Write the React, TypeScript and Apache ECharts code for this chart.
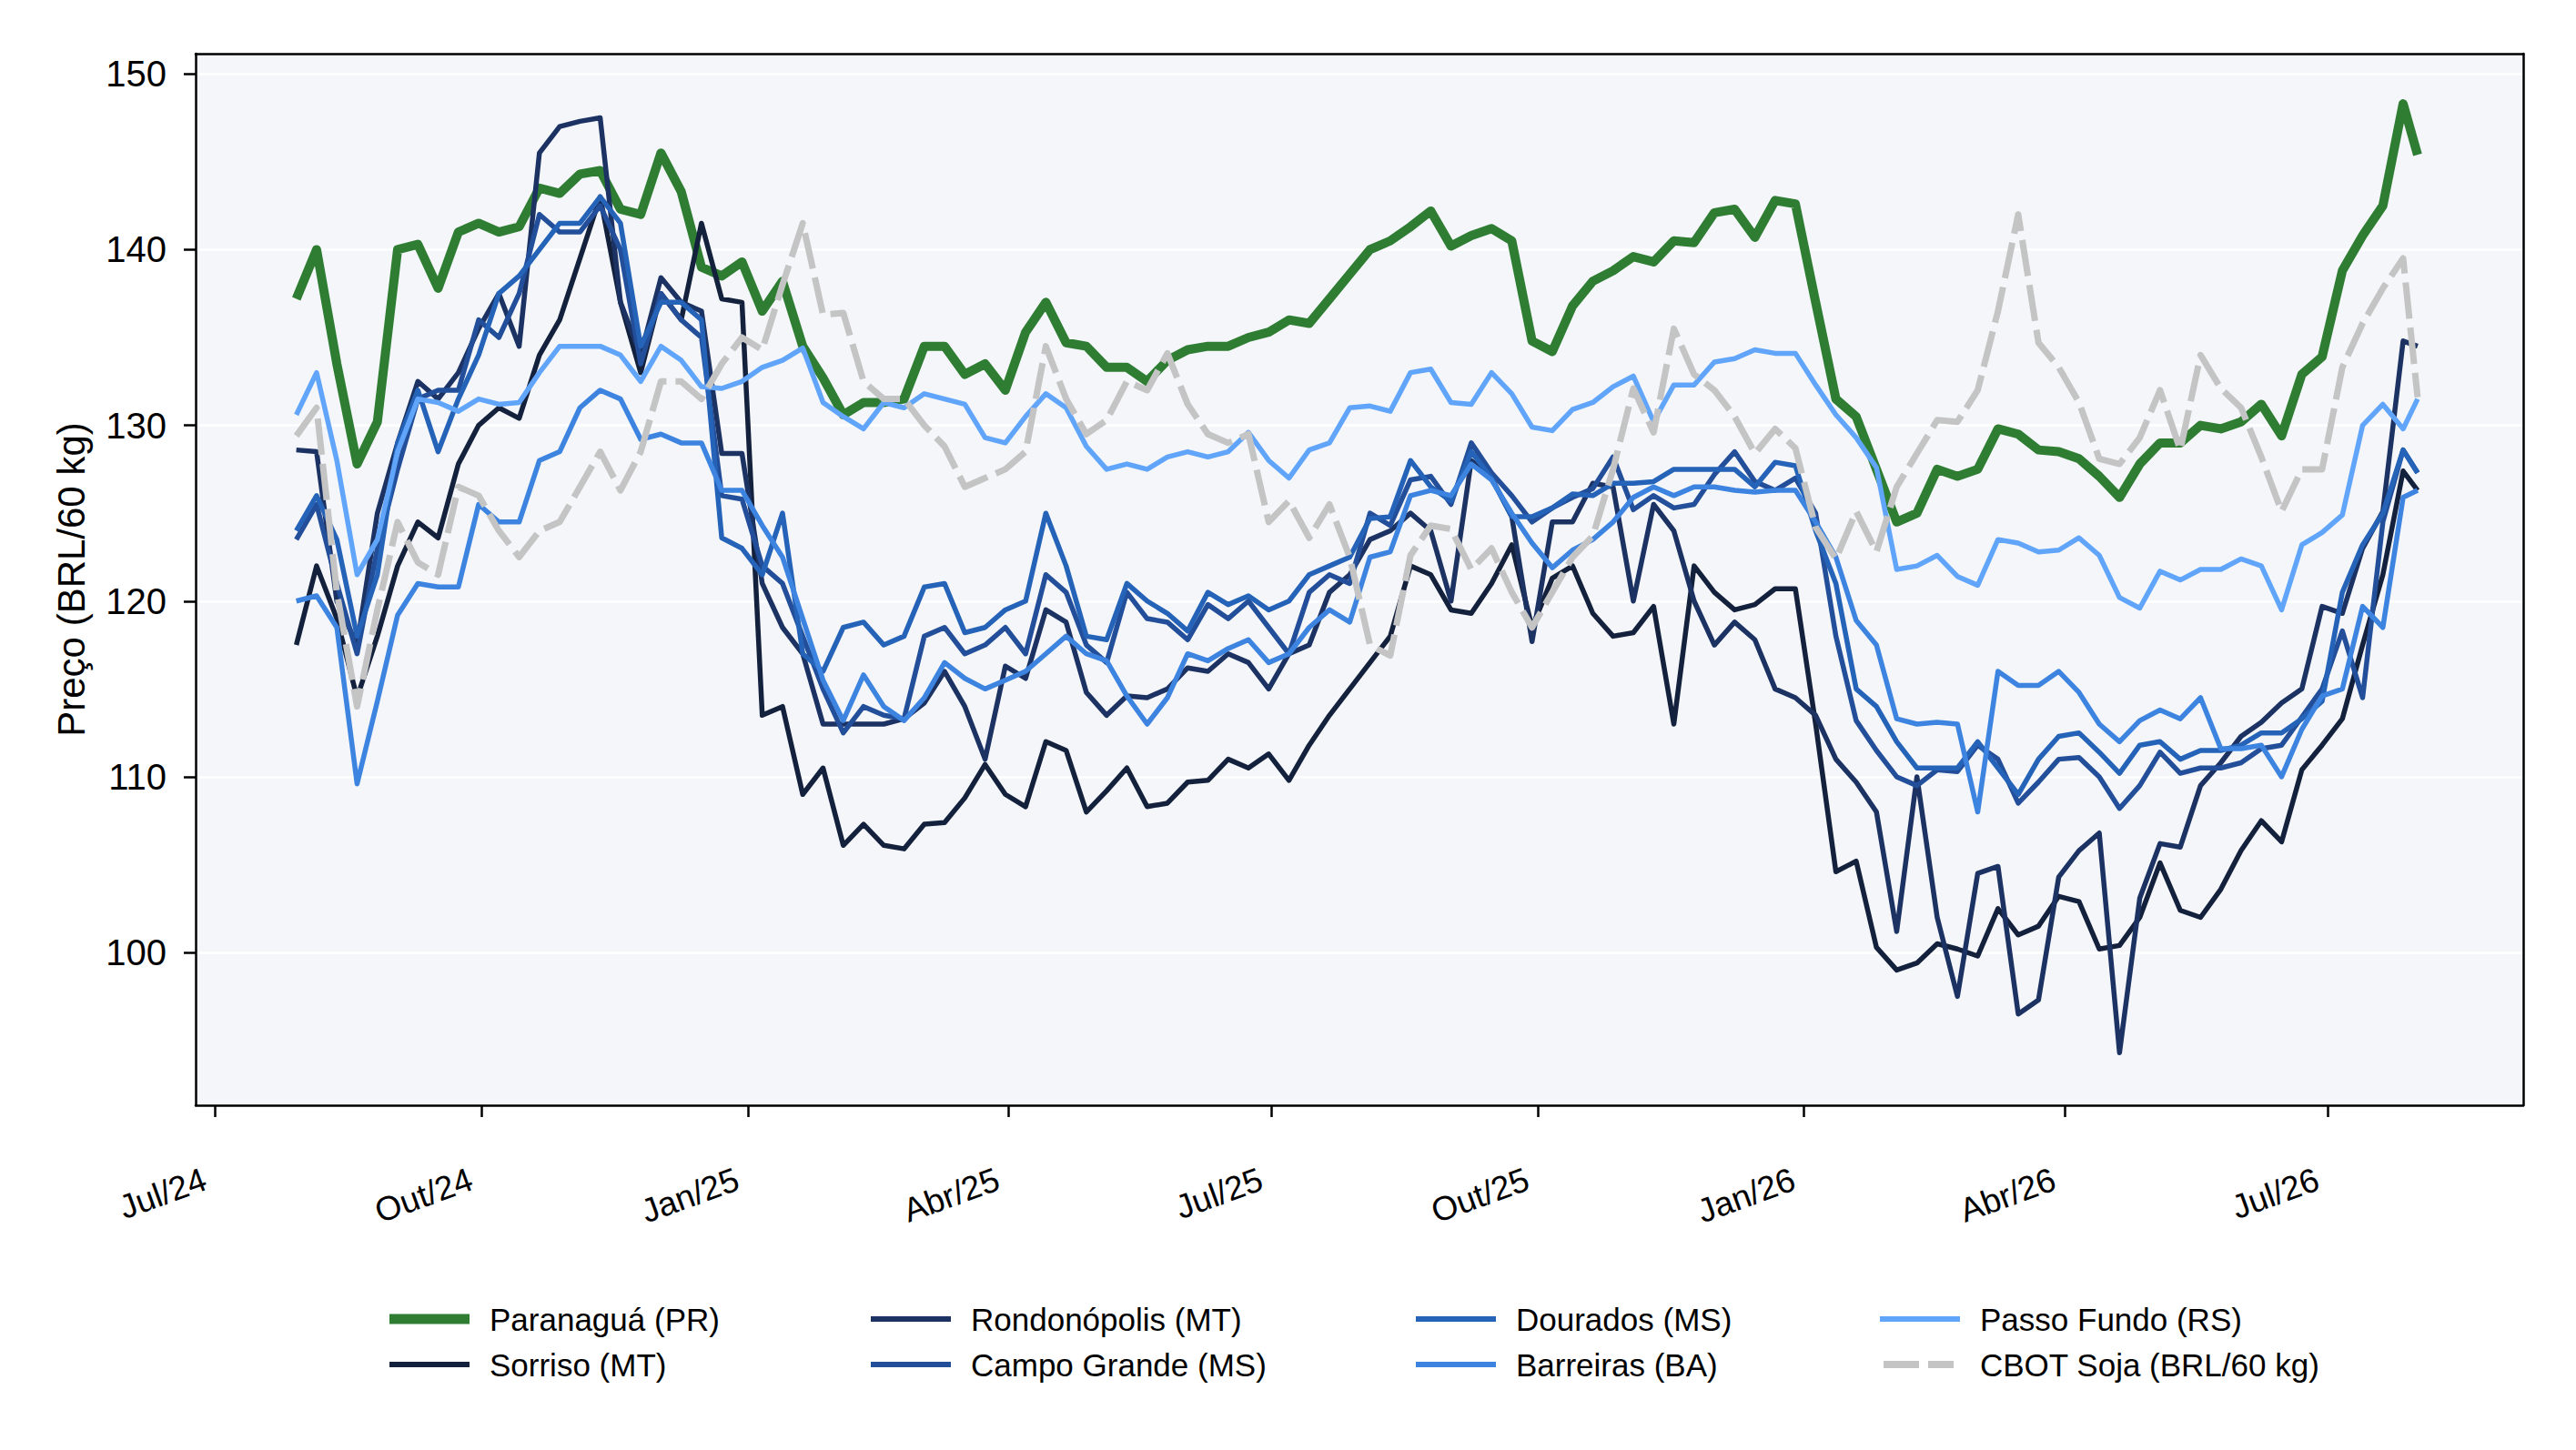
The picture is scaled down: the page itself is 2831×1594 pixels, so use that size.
import { useEffect, useRef } from "react";
import * as echarts from "echarts";

// Weekly observation dates (plus final observation)
const dates = [
  "2024-07-29", "2024-08-05", "2024-08-12", "2024-08-19", "2024-08-26", "2024-09-02", "2024-09-09", "2024-09-16",
  "2024-09-23", "2024-09-30", "2024-10-07", "2024-10-14", "2024-10-21", "2024-10-28", "2024-11-04", "2024-11-11",
  "2024-11-18", "2024-11-25", "2024-12-02", "2024-12-09", "2024-12-16", "2024-12-23", "2024-12-30", "2025-01-06",
  "2025-01-13", "2025-01-20", "2025-01-27", "2025-02-03", "2025-02-10", "2025-02-17", "2025-02-24", "2025-03-03",
  "2025-03-10", "2025-03-17", "2025-03-24", "2025-03-31", "2025-04-07", "2025-04-14", "2025-04-21", "2025-04-28",
  "2025-05-05", "2025-05-12", "2025-05-19", "2025-05-26", "2025-06-02", "2025-06-09", "2025-06-16", "2025-06-23",
  "2025-06-30", "2025-07-07", "2025-07-14", "2025-07-21", "2025-07-28", "2025-08-04", "2025-08-11", "2025-08-18",
  "2025-08-25", "2025-09-01", "2025-09-08", "2025-09-15", "2025-09-22", "2025-09-29", "2025-10-06", "2025-10-13",
  "2025-10-20", "2025-10-27", "2025-11-03", "2025-11-10", "2025-11-17", "2025-11-24", "2025-12-01", "2025-12-08",
  "2025-12-15", "2025-12-22", "2025-12-29", "2026-01-05", "2026-01-12", "2026-01-19", "2026-01-26", "2026-02-02",
  "2026-02-09", "2026-02-16", "2026-02-23", "2026-03-02", "2026-03-09", "2026-03-16", "2026-03-23", "2026-03-30",
  "2026-04-06", "2026-04-13", "2026-04-20", "2026-04-27", "2026-05-04", "2026-05-11", "2026-05-18", "2026-05-25",
  "2026-06-01", "2026-06-08", "2026-06-15", "2026-06-22", "2026-06-29", "2026-07-06", "2026-07-13", "2026-07-20",
  "2026-07-27", "2026-08-01",
];

const paranagua = [
  137.2, 140, 133.5, 127.8, 130.2, 140, 140.3, 137.8, 141, 141.5, 141, 141.3, 143.5, 143.2,
  144.3, 144.5, 142.3, 142, 145.5, 143.3, 139, 138.5, 139.3, 136.5, 138.2, 134.5, 132.7,
  130.6, 131.3, 131.3, 131.5, 134.5, 134.5, 132.9, 133.5, 132, 135.3, 137, 134.7, 134.5, 133.3,
  133.3, 132.5, 133.7, 134.3, 134.5, 134.5, 135, 135.3, 136, 135.8, 137.2, 138.6, 140,
  140.5, 141.3, 142.2, 140.2, 140.8, 141.2, 140.5, 134.8, 134.2, 136.8, 138.2, 138.8, 139.6, 139.3,
  140.5, 140.4, 142.1, 142.3, 140.7, 142.8, 142.6, 137, 131.5, 130.5, 127.5, 124.5, 125,
  127.5, 127.1, 127.5, 129.8, 129.5, 128.6, 128.5, 128.1, 127.1, 125.9, 127.8, 129, 129, 130,
  129.8, 130.2, 131.2, 129.4, 132.9, 133.9, 138.8, 140.8, 142.5, 148.3, 145.4,
];

const sorriso = [
  117.5, 122, 119, 114.5, 118, 122, 124.5, 123.6, 127.8, 130, 131, 130.4, 134, 136,
  139.5, 143, 137, 133, 137.5, 136, 141.5, 137.2, 137, 113.5, 114, 109, 110.5,
  106.1, 107.3, 106.1, 105.9, 107.3, 107.4, 108.8, 110.7, 109, 108.3, 112, 111.5, 108, 109.2,
  110.5, 108.3, 108.5, 109.7, 109.8, 111, 110.5, 111.3, 109.8, 111.8, 113.5, 115, 116.5,
  118, 122, 121.5, 119.5, 119.3, 121, 123.2, 118.5, 121.3, 122, 119.3, 118, 118.2, 119.7,
  113, 122, 120.5, 119.5, 119.8, 120.7, 120.7, 113, 104.6, 105.2, 100.3, 99, 99.4,
  100.5, 100.2, 99.8, 102.5, 101, 101.5, 103.2, 102.9, 100.2, 100.4, 102, 105.1, 102.4, 102,
  103.6, 105.8, 107.5, 106.3, 110.4, 111.8, 113.3, 117.5, 121.5, 127.4, 126.3,
];

const rondonopolis = [
  128.6, 128.5, 120, 117.5, 125, 129, 132.5, 131.5, 133, 135.5, 137.5, 134.5, 145.5, 147,
  147.3, 147.5, 137, 134, 138.4, 137, 136.5, 128.4, 128.4, 121, 118.5, 117, 113,
  113, 113, 113, 113.3, 114.2, 116, 114, 111, 116.3, 115.6, 119.5, 118.8, 114.8, 113.5,
  114.6, 114.5, 115, 116.2, 116, 117, 116.5, 115, 117, 117.5, 120.5, 121.5, 123.5,
  124, 125, 124, 120, 128, 127, 124.8, 117.7, 124.5, 124.5, 126.7, 126.5, 120, 125.5,
  124, 120, 117.5, 118.8, 117.8, 115, 114.5, 113.5, 111, 109.7, 108, 101.2, 110,
  102, 97.5, 104.5, 104.9, 96.5, 97.3, 104.3, 105.8, 106.8, 94.3, 103.1, 106.2, 106, 109.5,
  110.8, 112.3, 113.1, 114.2, 115, 119.7, 119.3, 123, 125.1, 134.8, 134.5,
];

const campoGrande = [
  123.5, 125.5, 121, 117, 123, 127.5, 131.5, 132, 132, 136, 135, 137.5, 142, 141,
  141, 142.5, 140, 133.5, 137.5, 136, 135, 126, 125.8, 122, 121, 118, 115,
  112.5, 114, 113.5, 113.3, 118, 118.5, 117, 117.5, 118.5, 117, 121.5, 120.5, 117.5, 116.5,
  120.5, 119, 118.8, 117.8, 119.8, 119, 120, 118.5, 117, 120.5, 121.5, 121, 125,
  124.3, 126.9, 127.1, 125.5, 129, 127.3, 126, 124.5, 125.3, 125.9, 126.4, 128.2, 125.2, 126,
  125.3, 125.5, 127.2, 128.5, 126.8, 126.3, 127, 125, 118, 113.2, 111.5, 110, 109.5,
  110.4, 110.3, 111.8, 111, 108.5, 109.7, 111, 111.1, 110, 108.2, 109.5, 111.4, 110.2, 110.5,
  110.5, 110.8, 111.6, 111.8, 113.4, 115, 118.3, 114.5, 124.5, 128.6, 127.3,
];

const dourados = [
  124, 126, 123.5, 118, 121.5, 129, 132, 128.5, 131.5, 134, 137.5, 138.5, 140, 141.5,
  141.5, 143, 141.5, 134.5, 137, 137, 136, 123.6, 123, 121.5, 125, 117, 116,
  118.5, 118.8, 117.5, 118, 120.8, 121, 118.2, 118.5, 119.5, 120, 125, 122, 118, 117.8,
  121, 120, 119.3, 118.3, 120.5, 119.8, 120.3, 119.5, 120, 121.5, 122, 122.5, 124.7,
  124.8, 128, 126.5, 125.7, 128.5, 127, 124.8, 124.8, 125.3, 126.1, 126, 126.7, 126.7, 126.8,
  127.5, 127.5, 127.5, 127.5, 126.5, 127.9, 127.7, 124, 121, 115, 114, 112, 110.5,
  110.5, 110.5, 112, 110.5, 109, 111, 112.3, 112.5, 111.4, 110.2, 111.8, 112, 111, 111.5,
  111.5, 111.8, 112.5, 112.5, 113.3, 114.3, 120.5, 123.2, 125, 128.6, 127.3,
];

const barreiras = [
  120, 120.3, 118.5, 109.6, 114.3, 119.2, 121, 120.8, 120.8, 125.5, 124.5, 124.5, 128, 128.5,
  131, 132, 131.5, 129.2, 129.5, 129, 129, 126.3, 126.3, 124.3, 122.5, 119, 115.5,
  113.2, 115.8, 114, 113.2, 114.5, 116.5, 115.6, 115, 115.5, 116, 117, 118, 117, 116.6,
  114.6, 113, 114.5, 117, 116.6, 117.3, 117.8, 116.5, 117, 118.5, 119.5, 118.8, 122.5,
  122.8, 126, 126.3, 126, 127.8, 126.9, 125, 123.3, 121.9, 122.9, 123.5, 124.5, 125.9, 126.5,
  126, 126.5, 126.5, 126.3, 126.2, 126.3, 126.3, 124.5, 122.5, 118.9, 117.5, 113.3, 113,
  113.1, 113, 108, 116, 115.2, 115.2, 116, 114.8, 113, 112, 113.2, 113.8, 113.3, 114.5,
  111.6, 111.6, 111.8, 110, 112.7, 114.6, 115, 119.7, 118.5, 125.9, 126.3,
];

const passoFundo = [
  130.6, 133, 128, 121.5, 123.5, 128.5, 131.5, 131.3, 130.8, 131.5, 131.2, 131.3, 133, 134.5,
  134.5, 134.5, 134, 132.5, 134.5, 133.7, 132.2, 132.1, 132.5, 133.3, 133.7, 134.4, 131.3,
  130.5, 129.8, 131.3, 131, 131.8, 131.5, 131.2, 129.3, 129, 130.5, 131.8, 131, 128.8, 127.5,
  127.8, 127.5, 128.2, 128.5, 128.2, 128.5, 129.6, 128, 127, 128.6, 129, 131, 131.1,
  130.8, 133, 133.2, 131.3, 131.2, 133, 131.8, 129.9, 129.7, 130.9, 131.3, 132.2, 132.8, 130.2,
  132.3, 132.3, 133.6, 133.8, 134.3, 134.1, 134.1, 132.3, 130.6, 129.3, 127.6, 121.8, 122,
  122.6, 121.4, 120.9, 123.5, 123.3, 122.8, 122.9, 123.6, 122.6, 120.2, 119.6, 121.7, 121.2, 121.8,
  121.8, 122.4, 122, 119.5, 123.2, 123.9, 124.9, 130, 131.2, 129.8, 131.5,
];

const cbot = [
  129.4, 131, 120.5, 114, 119.5, 124.5, 122.2, 121.5, 126.5, 126, 124, 122.5, 124, 124.5,
  126.5, 128.5, 126.3, 128.5, 132.5, 132.5, 131.5, 133.5, 135, 134.3, 138, 141.5, 136.3,
  136.4, 132.5, 131.5, 131.5, 130, 128.8, 126.5, 127, 127.5, 128.5, 134.5, 131.5, 129.5, 130.3,
  132.5, 132, 134.1, 131.2, 129.5, 129, 129.5, 124.5, 125.7, 123.6, 125.5, 122.5, 117.5,
  116.9, 122.6, 124.3, 124.1, 121.8, 123, 120.5, 118.5, 120.5, 122.5, 123.7, 127.5, 132.1, 129.6,
  135.5, 132.9, 132, 130.5, 128.4, 129.8, 128.7, 124.2, 122.4, 125.1, 122.8, 126.5, 128.4,
  130.3, 130.2, 132, 136.5, 142, 134.7, 133.3, 131.3, 128.1, 127.8, 129.3, 132, 128.6, 134,
  132.1, 131, 128.2, 125.1, 127.5, 127.5, 133.3, 135.8, 137.8, 139.5, 131.6,
];

const tickDates = [
  "2024-07-01", "2024-10-01", "2025-01-01", "2025-04-01", "2025-07-01",
  "2025-10-01", "2026-01-01", "2026-04-01", "2026-07-01",
];
const tickLabels = ["Jul/24", "Out/24", "Jan/25", "Abr/25", "Jul/25", "Out/25", "Jan/26", "Abr/26", "Jul/26"];
const yTicks = [100, 110, 120, 130, 140, 150];

const seriesNames = [
  "Paranaguá (PR)", "Sorriso (MT)", "Rondonópolis (MT)", "Campo Grande (MS)",
  "Dourados (MS)", "Barreiras (BA)", "Passo Fundo (RS)", "CBOT Soja (BRL/60 kg)",
];
const seriesValues = [paranagua, sorriso, rondonopolis, campoGrande, dourados, barreiras, passoFundo, cbot];
const seriesColors = ["#2e7d32", "#14213d", "#1b3263", "#234e99", "#2463b7", "#3d84e0", "#60a5fa", "#c4c4c4"];
const seriesWidths = [10, 5.5, 5.5, 5.5, 5.5, 5.5, 5.5, 7];

// Legend swatches (88 x 20 box; tiny corner specks fix the bounding box)
const CORNERS = "M0,0h0.01v0.01h-0.01z M87.99,19.99h0.01v0.01h-0.01z ";
const ICON_THICK = "path://" + CORNERS + "M0,4.5h88v11h-88z";
const ICON_THIN = "path://" + CORNERS + "M0,7h88v6h-88z";
const ICON_DASH = "path://" + CORNERS + "M4,6h39v8h-39z M53,6h28v8h-28z";
const legendIcons = [ICON_THICK, ICON_THIN, ICON_THIN, ICON_THIN, ICON_THIN, ICON_THIN, ICON_THIN, ICON_DASH];

const FONT = "Arial, 'Liberation Sans', Helvetica, sans-serif";

function ts(s: string): number {
  const p = s.split("-").map(Number);
  return Date.UTC(p[0], p[1] - 1, p[2]);
}

export default function App() {
  const ref = useRef<HTMLDivElement>(null);

  useEffect(() => {
    document.body.style.margin = "0";
    document.body.style.overflow = "hidden";
    const chart = echarts.init(ref.current!, null, { renderer: "svg" });

    const tickTs = tickDates.map(ts);
    const xMin = Date.UTC(2024, 5, 24, 5);
    const xMax = Date.UTC(2026, 8, 6, 12);
    const dateTs = dates.map(ts);

    const legendCols = [[0, 1], [2, 3], [4, 5], [6, 7]];
    const legendLeft = [428, 957, 1556, 2066];

    const series: any[] = seriesNames.map((name, i) => ({
      name,
      type: "line",
      xAxisIndex: 0,
      yAxisIndex: 0,
      symbol: "none",
      showSymbol: false,
      data: dateTs.map((t, k) => [t, seriesValues[i][k]]),
      lineStyle: {
        color: seriesColors[i],
        width: seriesWidths[i],
        type: i === 7 ? [40, 10] : "solid",
        join: "round",
        cap: "butt",
      },
      itemStyle: { color: seriesColors[i] },
      z: 2,
    }));

    const labelFor = (v: number) => {
      let best = 0;
      let bd = Infinity;
      tickTs.forEach((t, i) => {
        const d = Math.abs(t - v);
        if (d < bd) { bd = d; best = i; }
      });
      return tickLabels[best];
    };

    const option: any = {
      animation: false,
      backgroundColor: "#ffffff",
      textStyle: { fontFamily: FONT },
      grid: {
        left: 215,
        top: 59,
        width: 2558,
        height: 1156,
        show: true,
        backgroundColor: "#f4f6fa",
        borderWidth: 0,
      },
      xAxis: [
        {
          type: "value",
          min: xMin,
          max: xMax,
          axisLine: { show: true, onZero: false, lineStyle: { color: "#000", width: 2.5 } },
          axisTick: { show: true, length: 13, customValues: tickTs, lineStyle: { color: "#000", width: 2.5 } },
          axisLabel: {
            customValues: tickTs,
            rotate: 20,
            margin: 76,
            padding: [0, 12, 0, 0],
            fontSize: 37,
            color: "#000",
            fontFamily: FONT,
            formatter: (v: number) => labelFor(v),
          },
          splitLine: { show: false },
        },
        {
          type: "value",
          position: "top",
          min: 0,
          max: 1,
          axisLine: { show: true, onZero: false, lineStyle: { color: "#000", width: 2.5 } },
          axisTick: { show: false },
          axisLabel: { show: false },
          splitLine: { show: false },
        },
      ],
      yAxis: [
        {
          type: "value",
          min: 91.31,
          max: 151.15,
          axisLine: { show: true, onZero: false, lineStyle: { color: "#000", width: 2.5 } },
          axisTick: { show: true, length: 13, customValues: yTicks, lineStyle: { color: "#000", width: 2.5 } },
          axisLabel: { customValues: yTicks, fontSize: 40, color: "#000", margin: 32, fontFamily: FONT },
          splitLine: { show: true, lineStyle: { color: "#ffffff", width: 2.5 } },
          name: "Preço (BRL/60 kg)",
          nameLocation: "middle",
          nameRotate: 90,
          nameGap: 116,
          nameTextStyle: { fontSize: 42, color: "#000", fontFamily: FONT },
        },
        {
          type: "value",
          position: "right",
          min: 0,
          max: 1,
          axisLine: { show: true, onZero: false, lineStyle: { color: "#000", width: 2.5 } },
          axisTick: { show: false },
          axisLabel: { show: false },
          splitLine: { show: false },
        },
      ],
      legend: legendCols.map((col, i) => ({
        data: col.map((j) => ({
          name: seriesNames[j],
          icon: legendIcons[j],
          itemStyle: { color: seriesColors[j], borderWidth: 0, borderColor: "transparent" },
        })),
        orient: "vertical",
        left: legendLeft[i],
        top: 1430,
        padding: 0,
        itemWidth: 88,
        itemHeight: 20,
        itemGap: 10,
        itemStyle: { borderWidth: 0 },
        textStyle: { fontSize: 35, color: "#000", fontFamily: FONT, lineHeight: 40, padding: [0, 0, 0, 17] },
      })),
      series,
    };

    chart.setOption(option);
    return () => chart.dispose();
  }, []);

  return <div ref={ref} style={{ width: 2831, height: 1594 }} />;
}
